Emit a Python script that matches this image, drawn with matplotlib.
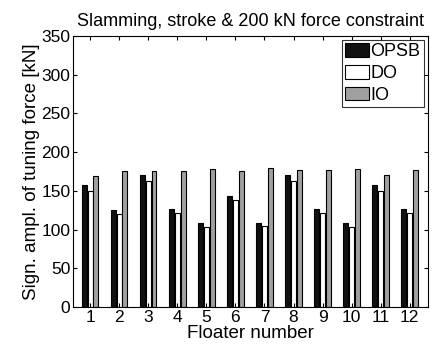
import numpy as np
import matplotlib
matplotlib.use("Agg")
import matplotlib.pyplot as plt

plt.rcParams['font.family'] = ['Liberation Sans', 'DejaVu Sans']

# Werte
floater = np.arange(1, 13)
opsb = [157, 125, 170, 126, 108, 143, 108, 171, 126, 108, 158, 126]
do = [150, 120, 163, 121, 103, 138, 104, 163, 121, 103, 150, 121]
io = [169, 176, 176, 176, 178, 176, 179, 177, 177, 178, 170, 177]
series_names = ["OPSB", "DO", "IO"]
series_colors = ["#111111", "#ffffff", "#a0a0a0"]

fig = plt.figure(figsize=(4.33, 3.52), dpi=100)
ax = fig.add_axes([0.169, 0.128, 0.819, 0.770])

w = 0.2
for i, (vals, name, col) in enumerate(zip([opsb, do, io], series_names, series_colors)):
    ax.bar(floater + (i - 1) * w, vals, width=w * 0.85, color=col,
           edgecolor="black", linewidth=0.8, label=name)

ax.set_xlim(0.42, 12.62)
ax.set_ylim(0, 350)
ax.set_xticks(floater)
ax.set_yticks(np.arange(0, 351, 50))
ax.tick_params(direction="in", top=True, right=True, labelsize=12.5, length=3, pad=2)
for s in ax.spines.values():
    s.set_linewidth(0.8)

ax.set_xlabel("Floater number", fontsize=13.5, labelpad=0.5)
ax.set_ylabel("Sign. ampl. of tuning force [kN]", fontsize=13.5, labelpad=1)
ax.set_title("Slamming, stroke & 200 kN force constraint", fontsize=13, pad=7)

leg = ax.legend(loc="upper right", fontsize=13, fancybox=False, edgecolor="black",
                handlelength=1.3, handleheight=0.8, handletextpad=0.1,
                borderpad=0.2, labelspacing=0.25, borderaxespad=0.2)
leg.get_frame().set_linewidth(0.8)

fig.savefig("out.png", dpi=100)
